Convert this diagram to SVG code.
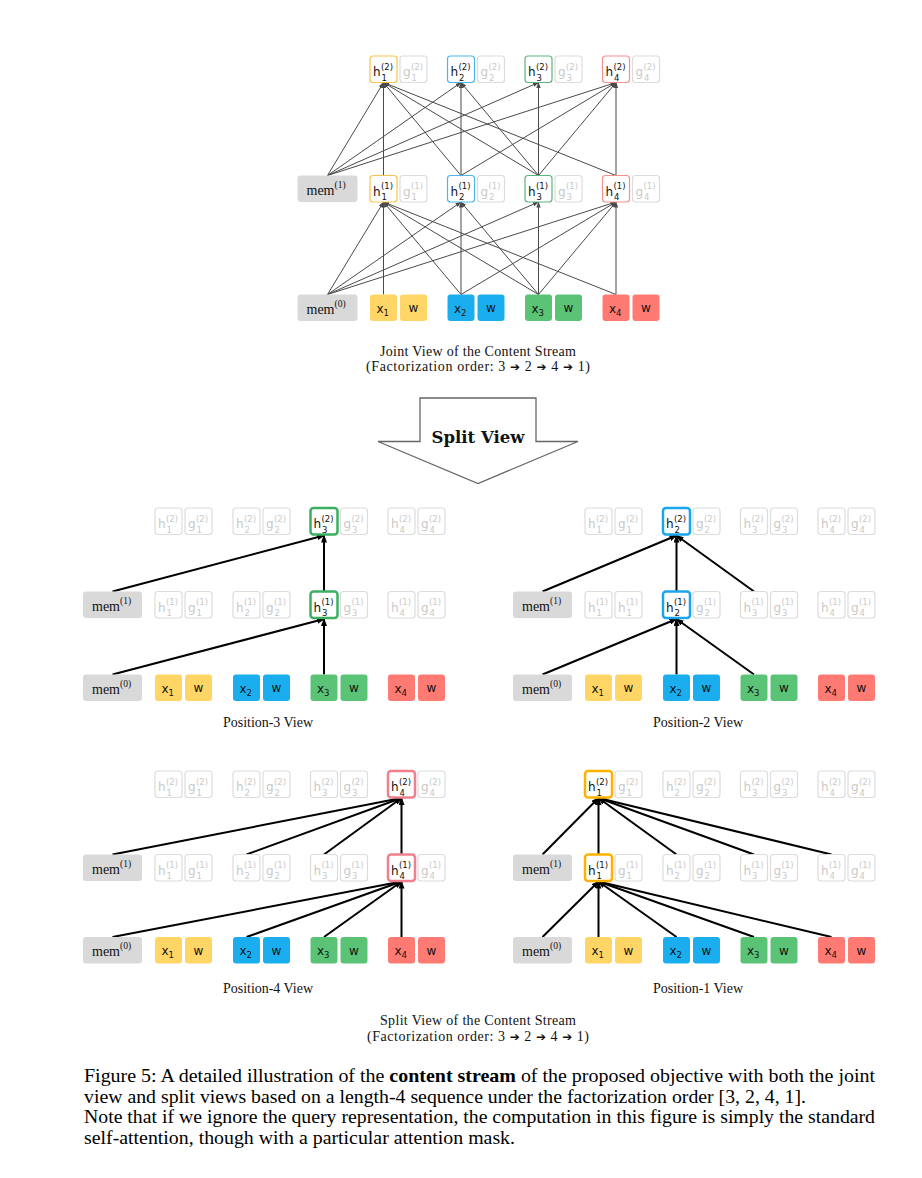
<svg xmlns="http://www.w3.org/2000/svg" width="922" height="1178" viewBox="0 0 922 1178">
<defs>
<style>
.bx{fill:#fff;stroke:#dcdcdc;stroke-width:1.2}
.t{font-family:"DejaVu Sans",sans-serif;font-size:12px;fill:#111}
.f{fill:#c9c9c9}
.s{font-size:8.5px}
.m{font-family:"Liberation Serif",serif;font-size:14px;fill:#111}
.ms{font-family:"Liberation Serif",serif;font-size:9.5px;fill:#111}
.mb{fill:#d9d9d9}
.wt{text-anchor:middle}
.cap{font-family:"Liberation Serif",serif;font-size:14px;fill:#111;text-anchor:middle}
.ar{font-family:"DejaVu Sans",sans-serif;font-size:12px;font-weight:bold}
.fig{font-family:"Liberation Serif",serif;font-size:19.5px;fill:#000}
.ej{stroke:#4a4a4a;stroke-width:1;fill:none;marker-end:url(#aj)}
.es{stroke:#000;stroke-width:2;fill:none;marker-end:url(#as)}
.y{fill:#FFD666}.b{fill:#1BAEEF}.g{fill:#5AC375}.r{fill:#FF7A73}
.jy{fill:#fff;stroke:#F8C34A;stroke-width:1.2}
.jb{fill:#fff;stroke:#4DB5EF;stroke-width:1.2}
.jg{fill:#fff;stroke:#5CB57A;stroke-width:1.2}
.jr{fill:#fff;stroke:#F79090;stroke-width:1.2}
.hg{fill:#fff;stroke:#3BAF62;stroke-width:2.5}
.hb{fill:#fff;stroke:#1AA6EC;stroke-width:2.5}
.hr{fill:#fff;stroke:#F0808E;stroke-width:2.5}
.hy{fill:#fff;stroke:#FFB300;stroke-width:2.5}
</style>
<marker id="aj" viewBox="0 0 6 4.4" refX="5.5" refY="2.2" markerWidth="6" markerHeight="4.4" markerUnits="userSpaceOnUse" orient="auto"><path d="M0,0 L6,2.2 L0,4.4 z" fill="#4a4a4a"/></marker>
<marker id="as" viewBox="0 0 8 6" refX="7" refY="3" markerWidth="8" markerHeight="6" markerUnits="userSpaceOnUse" orient="auto"><path d="M0,0 L8,3 L0,6 z" fill="#000"/></marker>
</defs>
<rect width="922" height="1178" fill="#fff"/>

<!-- ================= JOINT VIEW ================= -->
<g id="joint-connectors">
<line class="ej" x1="327.5" y1="175.5" x2="383.5" y2="82.5"/>
<line class="ej" x1="327.5" y1="175.5" x2="461" y2="82.5"/>
<line class="ej" x1="327.5" y1="175.5" x2="538.5" y2="82.5"/>
<line class="ej" x1="327.5" y1="175.5" x2="616" y2="82.5"/>
<line class="ej" x1="383.5" y1="175.5" x2="383.5" y2="82.5"/>
<line class="ej" x1="461" y1="175.5" x2="383.5" y2="82.5"/>
<line class="ej" x1="461" y1="175.5" x2="461" y2="82.5"/>
<line class="ej" x1="461" y1="175.5" x2="616" y2="82.5"/>
<line class="ej" x1="538.5" y1="175.5" x2="383.5" y2="82.5"/>
<line class="ej" x1="538.5" y1="175.5" x2="461" y2="82.5"/>
<line class="ej" x1="538.5" y1="175.5" x2="538.5" y2="82.5"/>
<line class="ej" x1="538.5" y1="175.5" x2="616" y2="82.5"/>
<line class="ej" x1="616" y1="175.5" x2="383.5" y2="82.5"/>
<line class="ej" x1="616" y1="175.5" x2="616" y2="82.5"/>
<line class="ej" x1="327.5" y1="294.5" x2="383.5" y2="202"/>
<line class="ej" x1="327.5" y1="294.5" x2="461" y2="202"/>
<line class="ej" x1="327.5" y1="294.5" x2="538.5" y2="202"/>
<line class="ej" x1="327.5" y1="294.5" x2="616" y2="202"/>
<line class="ej" x1="383.5" y1="294.5" x2="383.5" y2="202"/>
<line class="ej" x1="461" y1="294.5" x2="383.5" y2="202"/>
<line class="ej" x1="461" y1="294.5" x2="461" y2="202"/>
<line class="ej" x1="461" y1="294.5" x2="616" y2="202"/>
<line class="ej" x1="538.5" y1="294.5" x2="383.5" y2="202"/>
<line class="ej" x1="538.5" y1="294.5" x2="461" y2="202"/>
<line class="ej" x1="538.5" y1="294.5" x2="538.5" y2="202"/>
<line class="ej" x1="538.5" y1="294.5" x2="616" y2="202"/>
<line class="ej" x1="616" y1="294.5" x2="383.5" y2="202"/>
<line class="ej" x1="616" y1="294.5" x2="616" y2="202"/>
</g>

<g id="joint-l2">
<rect class="jy" x="370" y="56" width="27" height="26.5" rx="3"/><text class="t" x="373" y="76">h<tspan class="s" x="381.5" y="80.5">1</tspan><tspan class="s" x="381" y="69.5">(2)</tspan></text>
<rect class="bx" x="400" y="56" width="27" height="26.5" rx="3"/><text class="t f" x="403" y="76">g<tspan class="s" x="411.5" y="80.5">1</tspan><tspan class="s" x="411" y="69.5">(2)</tspan></text>
<rect class="jb" x="447.5" y="56" width="27" height="26.5" rx="3"/><text class="t" x="450.5" y="76">h<tspan class="s" x="459" y="80.5">2</tspan><tspan class="s" x="458.5" y="69.5">(2)</tspan></text>
<rect class="bx" x="477.5" y="56" width="27" height="26.5" rx="3"/><text class="t f" x="480.5" y="76">g<tspan class="s" x="489" y="80.5">2</tspan><tspan class="s" x="488.5" y="69.5">(2)</tspan></text>
<rect class="jg" x="525" y="56" width="27" height="26.5" rx="3"/><text class="t" x="528" y="76">h<tspan class="s" x="536.5" y="80.5">3</tspan><tspan class="s" x="536" y="69.5">(2)</tspan></text>
<rect class="bx" x="555" y="56" width="27" height="26.5" rx="3"/><text class="t f" x="558" y="76">g<tspan class="s" x="566.5" y="80.5">3</tspan><tspan class="s" x="566" y="69.5">(2)</tspan></text>
<rect class="jr" x="602.5" y="56" width="27" height="26.5" rx="3"/><text class="t" x="605.5" y="76">h<tspan class="s" x="614" y="80.5">4</tspan><tspan class="s" x="613.5" y="69.5">(2)</tspan></text>
<rect class="bx" x="632.5" y="56" width="27" height="26.5" rx="3"/><text class="t f" x="635.5" y="76">g<tspan class="s" x="644" y="80.5">4</tspan><tspan class="s" x="643.5" y="69.5">(2)</tspan></text>
</g>

<g id="joint-l1">
<rect class="mb" x="297.5" y="175.5" width="60" height="26.5" rx="3"/><text class="m" x="306.5" y="194.5">mem<tspan class="ms" x="334.5" y="187.5">(1)</tspan></text>
<rect class="jy" x="370" y="175.5" width="27" height="26.5" rx="3"/><text class="t" x="373" y="195.5">h<tspan class="s" x="381.5" y="200">1</tspan><tspan class="s" x="381" y="189">(1)</tspan></text>
<rect class="bx" x="400" y="175.5" width="27" height="26.5" rx="3"/><text class="t f" x="403" y="195.5">g<tspan class="s" x="411.5" y="200">1</tspan><tspan class="s" x="411" y="189">(1)</tspan></text>
<rect class="jb" x="447.5" y="175.5" width="27" height="26.5" rx="3"/><text class="t" x="450.5" y="195.5">h<tspan class="s" x="459" y="200">2</tspan><tspan class="s" x="458.5" y="189">(1)</tspan></text>
<rect class="bx" x="477.5" y="175.5" width="27" height="26.5" rx="3"/><text class="t f" x="480.5" y="195.5">g<tspan class="s" x="489" y="200">2</tspan><tspan class="s" x="488.5" y="189">(1)</tspan></text>
<rect class="jg" x="525" y="175.5" width="27" height="26.5" rx="3"/><text class="t" x="528" y="195.5">h<tspan class="s" x="536.5" y="200">3</tspan><tspan class="s" x="536" y="189">(1)</tspan></text>
<rect class="bx" x="555" y="175.5" width="27" height="26.5" rx="3"/><text class="t f" x="558" y="195.5">g<tspan class="s" x="566.5" y="200">3</tspan><tspan class="s" x="566" y="189">(1)</tspan></text>
<rect class="jr" x="602.5" y="175.5" width="27" height="26.5" rx="3"/><text class="t" x="605.5" y="195.5">h<tspan class="s" x="614" y="200">4</tspan><tspan class="s" x="613.5" y="189">(1)</tspan></text>
<rect class="bx" x="632.5" y="175.5" width="27" height="26.5" rx="3"/><text class="t f" x="635.5" y="195.5">g<tspan class="s" x="644" y="200">4</tspan><tspan class="s" x="643.5" y="189">(1)</tspan></text>
</g>

<g id="joint-input">
<rect class="mb" x="297.5" y="294.5" width="60" height="26.5" rx="3"/><text class="m" x="306.5" y="313.5">mem<tspan class="ms" x="334.5" y="306.5">(0)</tspan></text>
<rect class="y" x="370" y="294.5" width="27" height="26.5" rx="3"/><text class="t" x="376.5" y="312.5">x<tspan class="s" x="383.5" y="315.5">1</tspan></text>
<rect class="y" x="400" y="294.5" width="27" height="26.5" rx="3"/><text class="t wt" x="413.5" y="312">w</text>
<rect class="b" x="447.5" y="294.5" width="27" height="26.5" rx="3"/><text class="t" x="454" y="312.5">x<tspan class="s" x="461" y="315.5">2</tspan></text>
<rect class="b" x="477.5" y="294.5" width="27" height="26.5" rx="3"/><text class="t wt" x="491" y="312">w</text>
<rect class="g" x="525" y="294.5" width="27" height="26.5" rx="3"/><text class="t" x="531.5" y="312.5">x<tspan class="s" x="538.5" y="315.5">3</tspan></text>
<rect class="g" x="555" y="294.5" width="27" height="26.5" rx="3"/><text class="t wt" x="568.5" y="312">w</text>
<rect class="r" x="602.5" y="294.5" width="27" height="26.5" rx="3"/><text class="t" x="609" y="312.5">x<tspan class="s" x="616" y="315.5">4</tspan></text>
<rect class="r" x="632.5" y="294.5" width="27" height="26.5" rx="3"/><text class="t wt" x="646" y="312">w</text>
</g>

<g id="joint-caption">
<text class="cap" x="478" y="356" textLength="196">Joint View of the Content Stream</text>
<text class="cap" x="478" y="371" textLength="224">(Factorization order: 3 <tspan class="ar">➔</tspan> 2 <tspan class="ar">➔</tspan> 4 <tspan class="ar">➔</tspan> 1)</text>
</g>

<g id="split-arrow">
<polygon points="420,398 536,398 536,441.5 578,441.5 478,483.5 378,441.5 420,441.5" fill="#fff" stroke="#666" stroke-width="1.3"/>
<text x="478" y="443" font-family="DejaVu Serif, serif" font-size="16.5" font-weight="bold" text-anchor="middle" fill="#111">Split View</text>
</g>

<!-- ================= POSITION-3 VIEW ================= -->
<g id="p3-connectors">
<line class="es" x1="112.5" y1="591.5" x2="324" y2="535.5"/>
<line class="es" x1="324" y1="591.5" x2="324" y2="535.5"/>
<line class="es" x1="112.5" y1="674.5" x2="324" y2="619"/>
<line class="es" x1="324" y1="674.5" x2="324" y2="619"/>
</g>
<g id="p3-l2">
<rect class="bx" x="155" y="508" width="27" height="26.5" rx="3"/><text class="t f" x="158" y="528">h<tspan class="s" x="166.5" y="532.5">1</tspan><tspan class="s" x="166" y="521.5">(2)</tspan></text>
<rect class="bx" x="185" y="508" width="27" height="26.5" rx="3"/><text class="t f" x="188" y="528">g<tspan class="s" x="196.5" y="532.5">1</tspan><tspan class="s" x="196" y="521.5">(2)</tspan></text>
<rect class="bx" x="233" y="508" width="27" height="26.5" rx="3"/><text class="t f" x="236" y="528">h<tspan class="s" x="244.5" y="532.5">2</tspan><tspan class="s" x="244" y="521.5">(2)</tspan></text>
<rect class="bx" x="263" y="508" width="27" height="26.5" rx="3"/><text class="t f" x="266" y="528">g<tspan class="s" x="274.5" y="532.5">2</tspan><tspan class="s" x="274" y="521.5">(2)</tspan></text>
<rect class="hg" x="310.5" y="508" width="27" height="26.5" rx="3"/><text class="t" x="313.5" y="528">h<tspan class="s" x="322" y="532.5">3</tspan><tspan class="s" x="321.5" y="521.5">(2)</tspan></text>
<rect class="bx" x="340.5" y="508" width="27" height="26.5" rx="3"/><text class="t f" x="343.5" y="528">g<tspan class="s" x="352" y="532.5">3</tspan><tspan class="s" x="351.5" y="521.5">(2)</tspan></text>
<rect class="bx" x="388" y="508" width="27" height="26.5" rx="3"/><text class="t f" x="391" y="528">h<tspan class="s" x="399.5" y="532.5">4</tspan><tspan class="s" x="399" y="521.5">(2)</tspan></text>
<rect class="bx" x="418" y="508" width="27" height="26.5" rx="3"/><text class="t f" x="421" y="528">g<tspan class="s" x="429.5" y="532.5">4</tspan><tspan class="s" x="429" y="521.5">(2)</tspan></text>
</g>
<g id="p3-l1">
<rect class="mb" x="83" y="591.5" width="59" height="26.5" rx="3"/><text class="m" x="92" y="610.5">mem<tspan class="ms" x="120" y="603.5">(1)</tspan></text>
<rect class="bx" x="155" y="591.5" width="27" height="26.5" rx="3"/><text class="t f" x="158" y="611.5">h<tspan class="s" x="166.5" y="616">1</tspan><tspan class="s" x="166" y="605">(1)</tspan></text>
<rect class="bx" x="185" y="591.5" width="27" height="26.5" rx="3"/><text class="t f" x="188" y="611.5">g<tspan class="s" x="196.5" y="616">1</tspan><tspan class="s" x="196" y="605">(1)</tspan></text>
<rect class="bx" x="233" y="591.5" width="27" height="26.5" rx="3"/><text class="t f" x="236" y="611.5">h<tspan class="s" x="244.5" y="616">2</tspan><tspan class="s" x="244" y="605">(1)</tspan></text>
<rect class="bx" x="263" y="591.5" width="27" height="26.5" rx="3"/><text class="t f" x="266" y="611.5">g<tspan class="s" x="274.5" y="616">2</tspan><tspan class="s" x="274" y="605">(1)</tspan></text>
<rect class="hg" x="310.5" y="591.5" width="27" height="26.5" rx="3"/><text class="t" x="313.5" y="611.5">h<tspan class="s" x="322" y="616">3</tspan><tspan class="s" x="321.5" y="605">(1)</tspan></text>
<rect class="bx" x="340.5" y="591.5" width="27" height="26.5" rx="3"/><text class="t f" x="343.5" y="611.5">g<tspan class="s" x="352" y="616">3</tspan><tspan class="s" x="351.5" y="605">(1)</tspan></text>
<rect class="bx" x="388" y="591.5" width="27" height="26.5" rx="3"/><text class="t f" x="391" y="611.5">h<tspan class="s" x="399.5" y="616">4</tspan><tspan class="s" x="399" y="605">(1)</tspan></text>
<rect class="bx" x="418" y="591.5" width="27" height="26.5" rx="3"/><text class="t f" x="421" y="611.5">g<tspan class="s" x="429.5" y="616">4</tspan><tspan class="s" x="429" y="605">(1)</tspan></text>
</g>
<g id="p3-input">
<rect class="mb" x="83" y="674.5" width="59" height="26.5" rx="3"/><text class="m" x="92" y="693.5">mem<tspan class="ms" x="120" y="686.5">(0)</tspan></text>
<rect class="y" x="155" y="674.5" width="27" height="26.5" rx="3"/><text class="t" x="161.5" y="692.5">x<tspan class="s" x="168.5" y="695.5">1</tspan></text>
<rect class="y" x="185" y="674.5" width="27" height="26.5" rx="3"/><text class="t wt" x="198.5" y="692">w</text>
<rect class="b" x="233" y="674.5" width="27" height="26.5" rx="3"/><text class="t" x="239.5" y="692.5">x<tspan class="s" x="246.5" y="695.5">2</tspan></text>
<rect class="b" x="263" y="674.5" width="27" height="26.5" rx="3"/><text class="t wt" x="276.5" y="692">w</text>
<rect class="g" x="310.5" y="674.5" width="27" height="26.5" rx="3"/><text class="t" x="317" y="692.5">x<tspan class="s" x="324" y="695.5">3</tspan></text>
<rect class="g" x="340.5" y="674.5" width="27" height="26.5" rx="3"/><text class="t wt" x="354" y="692">w</text>
<rect class="r" x="388" y="674.5" width="27" height="26.5" rx="3"/><text class="t" x="394.5" y="692.5">x<tspan class="s" x="401.5" y="695.5">4</tspan></text>
<rect class="r" x="418" y="674.5" width="27" height="26.5" rx="3"/><text class="t wt" x="431.5" y="692">w</text>
</g>
<text id="p3-caption" class="cap" x="268" y="727" font-size="12.5" textLength="90">Position-3 View</text>

<!-- ================= POSITION-2 VIEW ================= -->
<g id="p2-connectors">
<line class="es" x1="542.5" y1="591.5" x2="676.5" y2="535.5"/>
<line class="es" x1="676.5" y1="591.5" x2="676.5" y2="535.5"/>
<line class="es" x1="754" y1="591.5" x2="676.5" y2="535.5"/>
<line class="es" x1="542.5" y1="674.5" x2="676.5" y2="619"/>
<line class="es" x1="676.5" y1="674.5" x2="676.5" y2="619"/>
<line class="es" x1="754" y1="674.5" x2="676.5" y2="619"/>
</g>
<g id="p2-l2">
<rect class="bx" x="585" y="508" width="27" height="26.5" rx="3"/><text class="t f" x="588" y="528">h<tspan class="s" x="596.5" y="532.5">1</tspan><tspan class="s" x="596" y="521.5">(2)</tspan></text>
<rect class="bx" x="615" y="508" width="27" height="26.5" rx="3"/><text class="t f" x="618" y="528">g<tspan class="s" x="626.5" y="532.5">1</tspan><tspan class="s" x="626" y="521.5">(2)</tspan></text>
<rect class="hb" x="663" y="508" width="27" height="26.5" rx="3"/><text class="t" x="666" y="528">h<tspan class="s" x="674.5" y="532.5">2</tspan><tspan class="s" x="674" y="521.5">(2)</tspan></text>
<rect class="bx" x="693" y="508" width="27" height="26.5" rx="3"/><text class="t f" x="696" y="528">g<tspan class="s" x="704.5" y="532.5">2</tspan><tspan class="s" x="704" y="521.5">(2)</tspan></text>
<rect class="bx" x="740.5" y="508" width="27" height="26.5" rx="3"/><text class="t f" x="743.5" y="528">h<tspan class="s" x="752" y="532.5">3</tspan><tspan class="s" x="751.5" y="521.5">(2)</tspan></text>
<rect class="bx" x="770.5" y="508" width="27" height="26.5" rx="3"/><text class="t f" x="773.5" y="528">g<tspan class="s" x="782" y="532.5">3</tspan><tspan class="s" x="781.5" y="521.5">(2)</tspan></text>
<rect class="bx" x="818" y="508" width="27" height="26.5" rx="3"/><text class="t f" x="821" y="528">h<tspan class="s" x="829.5" y="532.5">4</tspan><tspan class="s" x="829" y="521.5">(2)</tspan></text>
<rect class="bx" x="848" y="508" width="27" height="26.5" rx="3"/><text class="t f" x="851" y="528">g<tspan class="s" x="859.5" y="532.5">4</tspan><tspan class="s" x="859" y="521.5">(2)</tspan></text>
</g>
<g id="p2-l1">
<rect class="mb" x="513" y="591.5" width="59" height="26.5" rx="3"/><text class="m" x="522" y="610.5">mem<tspan class="ms" x="550" y="603.5">(1)</tspan></text>
<rect class="bx" x="585" y="591.5" width="27" height="26.5" rx="3"/><text class="t f" x="588" y="611.5">h<tspan class="s" x="596.5" y="616">1</tspan><tspan class="s" x="596" y="605">(1)</tspan></text>
<rect class="bx" x="615" y="591.5" width="27" height="26.5" rx="3"/><text class="t f" x="618" y="611.5">h<tspan class="s" x="626.5" y="616">1</tspan><tspan class="s" x="626" y="605">(1)</tspan></text>
<rect class="hb" x="663" y="591.5" width="27" height="26.5" rx="3"/><text class="t" x="666" y="611.5">h<tspan class="s" x="674.5" y="616">2</tspan><tspan class="s" x="674" y="605">(1)</tspan></text>
<rect class="bx" x="693" y="591.5" width="27" height="26.5" rx="3"/><text class="t f" x="696" y="611.5">g<tspan class="s" x="704.5" y="616">2</tspan><tspan class="s" x="704" y="605">(1)</tspan></text>
<rect class="bx" x="740.5" y="591.5" width="27" height="26.5" rx="3"/><text class="t f" x="743.5" y="611.5">h<tspan class="s" x="752" y="616">3</tspan><tspan class="s" x="751.5" y="605">(1)</tspan></text>
<rect class="bx" x="770.5" y="591.5" width="27" height="26.5" rx="3"/><text class="t f" x="773.5" y="611.5">g<tspan class="s" x="782" y="616">3</tspan><tspan class="s" x="781.5" y="605">(1)</tspan></text>
<rect class="bx" x="818" y="591.5" width="27" height="26.5" rx="3"/><text class="t f" x="821" y="611.5">h<tspan class="s" x="829.5" y="616">4</tspan><tspan class="s" x="829" y="605">(1)</tspan></text>
<rect class="bx" x="848" y="591.5" width="27" height="26.5" rx="3"/><text class="t f" x="851" y="611.5">g<tspan class="s" x="859.5" y="616">4</tspan><tspan class="s" x="859" y="605">(1)</tspan></text>
</g>
<g id="p2-input">
<rect class="mb" x="513" y="674.5" width="59" height="26.5" rx="3"/><text class="m" x="522" y="693.5">mem<tspan class="ms" x="550" y="686.5">(0)</tspan></text>
<rect class="y" x="585" y="674.5" width="27" height="26.5" rx="3"/><text class="t" x="591.5" y="692.5">x<tspan class="s" x="598.5" y="695.5">1</tspan></text>
<rect class="y" x="615" y="674.5" width="27" height="26.5" rx="3"/><text class="t wt" x="628.5" y="692">w</text>
<rect class="b" x="663" y="674.5" width="27" height="26.5" rx="3"/><text class="t" x="669.5" y="692.5">x<tspan class="s" x="676.5" y="695.5">2</tspan></text>
<rect class="b" x="693" y="674.5" width="27" height="26.5" rx="3"/><text class="t wt" x="706.5" y="692">w</text>
<rect class="g" x="740.5" y="674.5" width="27" height="26.5" rx="3"/><text class="t" x="747" y="692.5">x<tspan class="s" x="754" y="695.5">3</tspan></text>
<rect class="g" x="770.5" y="674.5" width="27" height="26.5" rx="3"/><text class="t wt" x="784" y="692">w</text>
<rect class="r" x="818" y="674.5" width="27" height="26.5" rx="3"/><text class="t" x="824.5" y="692.5">x<tspan class="s" x="831.5" y="695.5">4</tspan></text>
<rect class="r" x="848" y="674.5" width="27" height="26.5" rx="3"/><text class="t wt" x="861.5" y="692">w</text>
</g>
<text id="p2-caption" class="cap" x="698" y="727" font-size="12.5" textLength="90">Position-2 View</text>

<!-- ================= POSITION-4 VIEW ================= -->
<g id="p4-connectors">
<line class="es" x1="112.5" y1="854.5" x2="401.5" y2="798"/>
<line class="es" x1="246.5" y1="854.5" x2="401.5" y2="798"/>
<line class="es" x1="324" y1="854.5" x2="401.5" y2="798"/>
<line class="es" x1="401.5" y1="854.5" x2="401.5" y2="798"/>
<line class="es" x1="112.5" y1="937" x2="401.5" y2="881.5"/>
<line class="es" x1="246.5" y1="937" x2="401.5" y2="881.5"/>
<line class="es" x1="324" y1="937" x2="401.5" y2="881.5"/>
<line class="es" x1="401.5" y1="937" x2="401.5" y2="881.5"/>
</g>
<g id="p4-l2">
<rect class="bx" x="155" y="771" width="27" height="26.5" rx="3"/><text class="t f" x="158" y="791">h<tspan class="s" x="166.5" y="795.5">1</tspan><tspan class="s" x="166" y="784.5">(2)</tspan></text>
<rect class="bx" x="185" y="771" width="27" height="26.5" rx="3"/><text class="t f" x="188" y="791">g<tspan class="s" x="196.5" y="795.5">1</tspan><tspan class="s" x="196" y="784.5">(2)</tspan></text>
<rect class="bx" x="233" y="771" width="27" height="26.5" rx="3"/><text class="t f" x="236" y="791">h<tspan class="s" x="244.5" y="795.5">2</tspan><tspan class="s" x="244" y="784.5">(2)</tspan></text>
<rect class="bx" x="263" y="771" width="27" height="26.5" rx="3"/><text class="t f" x="266" y="791">g<tspan class="s" x="274.5" y="795.5">2</tspan><tspan class="s" x="274" y="784.5">(2)</tspan></text>
<rect class="bx" x="310.5" y="771" width="27" height="26.5" rx="3"/><text class="t f" x="313.5" y="791">h<tspan class="s" x="322" y="795.5">3</tspan><tspan class="s" x="321.5" y="784.5">(2)</tspan></text>
<rect class="bx" x="340.5" y="771" width="27" height="26.5" rx="3"/><text class="t f" x="343.5" y="791">g<tspan class="s" x="352" y="795.5">3</tspan><tspan class="s" x="351.5" y="784.5">(2)</tspan></text>
<rect class="hr" x="388" y="771" width="27" height="26.5" rx="3"/><text class="t" x="391" y="791">h<tspan class="s" x="399.5" y="795.5">4</tspan><tspan class="s" x="399" y="784.5">(2)</tspan></text>
<rect class="bx" x="418" y="771" width="27" height="26.5" rx="3"/><text class="t f" x="421" y="791">g<tspan class="s" x="429.5" y="795.5">4</tspan><tspan class="s" x="429" y="784.5">(2)</tspan></text>
</g>
<g id="p4-l1">
<rect class="mb" x="83" y="854.5" width="59" height="26.5" rx="3"/><text class="m" x="92" y="873.5">mem<tspan class="ms" x="120" y="866.5">(1)</tspan></text>
<rect class="bx" x="155" y="854.5" width="27" height="26.5" rx="3"/><text class="t f" x="158" y="874.5">h<tspan class="s" x="166.5" y="879">1</tspan><tspan class="s" x="166" y="868">(1)</tspan></text>
<rect class="bx" x="185" y="854.5" width="27" height="26.5" rx="3"/><text class="t f" x="188" y="874.5">g<tspan class="s" x="196.5" y="879">1</tspan><tspan class="s" x="196" y="868">(1)</tspan></text>
<rect class="bx" x="233" y="854.5" width="27" height="26.5" rx="3"/><text class="t f" x="236" y="874.5">h<tspan class="s" x="244.5" y="879">2</tspan><tspan class="s" x="244" y="868">(1)</tspan></text>
<rect class="bx" x="263" y="854.5" width="27" height="26.5" rx="3"/><text class="t f" x="266" y="874.5">g<tspan class="s" x="274.5" y="879">2</tspan><tspan class="s" x="274" y="868">(1)</tspan></text>
<rect class="bx" x="310.5" y="854.5" width="27" height="26.5" rx="3"/><text class="t f" x="313.5" y="874.5">h<tspan class="s" x="322" y="879">3</tspan><tspan class="s" x="321.5" y="868">(1)</tspan></text>
<rect class="bx" x="340.5" y="854.5" width="27" height="26.5" rx="3"/><text class="t f" x="343.5" y="874.5">g<tspan class="s" x="352" y="879">3</tspan><tspan class="s" x="351.5" y="868">(1)</tspan></text>
<rect class="hr" x="388" y="854.5" width="27" height="26.5" rx="3"/><text class="t" x="391" y="874.5">h<tspan class="s" x="399.5" y="879">4</tspan><tspan class="s" x="399" y="868">(1)</tspan></text>
<rect class="bx" x="418" y="854.5" width="27" height="26.5" rx="3"/><text class="t f" x="421" y="874.5">g<tspan class="s" x="429.5" y="879">4</tspan><tspan class="s" x="429" y="868">(1)</tspan></text>
</g>
<g id="p4-input">
<rect class="mb" x="83" y="937" width="59" height="26.5" rx="3"/><text class="m" x="92" y="956">mem<tspan class="ms" x="120" y="949">(0)</tspan></text>
<rect class="y" x="155" y="937" width="27" height="26.5" rx="3"/><text class="t" x="161.5" y="955">x<tspan class="s" x="168.5" y="958">1</tspan></text>
<rect class="y" x="185" y="937" width="27" height="26.5" rx="3"/><text class="t wt" x="198.5" y="954.5">w</text>
<rect class="b" x="233" y="937" width="27" height="26.5" rx="3"/><text class="t" x="239.5" y="955">x<tspan class="s" x="246.5" y="958">2</tspan></text>
<rect class="b" x="263" y="937" width="27" height="26.5" rx="3"/><text class="t wt" x="276.5" y="954.5">w</text>
<rect class="g" x="310.5" y="937" width="27" height="26.5" rx="3"/><text class="t" x="317" y="955">x<tspan class="s" x="324" y="958">3</tspan></text>
<rect class="g" x="340.5" y="937" width="27" height="26.5" rx="3"/><text class="t wt" x="354" y="954.5">w</text>
<rect class="r" x="388" y="937" width="27" height="26.5" rx="3"/><text class="t" x="394.5" y="955">x<tspan class="s" x="401.5" y="958">4</tspan></text>
<rect class="r" x="418" y="937" width="27" height="26.5" rx="3"/><text class="t wt" x="431.5" y="954.5">w</text>
</g>
<text id="p4-caption" class="cap" x="268" y="993" font-size="12.5" textLength="90">Position-4 View</text>

<!-- ================= POSITION-1 VIEW ================= -->
<g id="p1-connectors">
<line class="es" x1="542.5" y1="854.5" x2="598.5" y2="798"/>
<line class="es" x1="598.5" y1="854.5" x2="598.5" y2="798"/>
<line class="es" x1="676.5" y1="854.5" x2="598.5" y2="798"/>
<line class="es" x1="754" y1="854.5" x2="598.5" y2="798"/>
<line class="es" x1="831.5" y1="854.5" x2="598.5" y2="798"/>
<line class="es" x1="542.5" y1="937" x2="598.5" y2="881.5"/>
<line class="es" x1="598.5" y1="937" x2="598.5" y2="881.5"/>
<line class="es" x1="676.5" y1="937" x2="598.5" y2="881.5"/>
<line class="es" x1="754" y1="937" x2="598.5" y2="881.5"/>
<line class="es" x1="831.5" y1="937" x2="598.5" y2="881.5"/>
</g>
<g id="p1-l2">
<rect class="hy" x="585" y="771" width="27" height="26.5" rx="3"/><text class="t" x="588" y="791">h<tspan class="s" x="596.5" y="795.5">1</tspan><tspan class="s" x="596" y="784.5">(2)</tspan></text>
<rect class="bx" x="615" y="771" width="27" height="26.5" rx="3"/><text class="t f" x="618" y="791">g<tspan class="s" x="626.5" y="795.5">1</tspan><tspan class="s" x="626" y="784.5">(2)</tspan></text>
<rect class="bx" x="663" y="771" width="27" height="26.5" rx="3"/><text class="t f" x="666" y="791">h<tspan class="s" x="674.5" y="795.5">2</tspan><tspan class="s" x="674" y="784.5">(2)</tspan></text>
<rect class="bx" x="693" y="771" width="27" height="26.5" rx="3"/><text class="t f" x="696" y="791">g<tspan class="s" x="704.5" y="795.5">2</tspan><tspan class="s" x="704" y="784.5">(2)</tspan></text>
<rect class="bx" x="740.5" y="771" width="27" height="26.5" rx="3"/><text class="t f" x="743.5" y="791">h<tspan class="s" x="752" y="795.5">3</tspan><tspan class="s" x="751.5" y="784.5">(2)</tspan></text>
<rect class="bx" x="770.5" y="771" width="27" height="26.5" rx="3"/><text class="t f" x="773.5" y="791">g<tspan class="s" x="782" y="795.5">3</tspan><tspan class="s" x="781.5" y="784.5">(2)</tspan></text>
<rect class="bx" x="818" y="771" width="27" height="26.5" rx="3"/><text class="t f" x="821" y="791">h<tspan class="s" x="829.5" y="795.5">4</tspan><tspan class="s" x="829" y="784.5">(2)</tspan></text>
<rect class="bx" x="848" y="771" width="27" height="26.5" rx="3"/><text class="t f" x="851" y="791">g<tspan class="s" x="859.5" y="795.5">4</tspan><tspan class="s" x="859" y="784.5">(2)</tspan></text>
</g>
<g id="p1-l1">
<rect class="mb" x="513" y="854.5" width="59" height="26.5" rx="3"/><text class="m" x="522" y="873.5">mem<tspan class="ms" x="550" y="866.5">(1)</tspan></text>
<rect class="hy" x="585" y="854.5" width="27" height="26.5" rx="3"/><text class="t" x="588" y="874.5">h<tspan class="s" x="596.5" y="879">1</tspan><tspan class="s" x="596" y="868">(1)</tspan></text>
<rect class="bx" x="615" y="854.5" width="27" height="26.5" rx="3"/><text class="t f" x="618" y="874.5">g<tspan class="s" x="626.5" y="879">1</tspan><tspan class="s" x="626" y="868">(1)</tspan></text>
<rect class="bx" x="663" y="854.5" width="27" height="26.5" rx="3"/><text class="t f" x="666" y="874.5">h<tspan class="s" x="674.5" y="879">2</tspan><tspan class="s" x="674" y="868">(1)</tspan></text>
<rect class="bx" x="693" y="854.5" width="27" height="26.5" rx="3"/><text class="t f" x="696" y="874.5">g<tspan class="s" x="704.5" y="879">2</tspan><tspan class="s" x="704" y="868">(1)</tspan></text>
<rect class="bx" x="740.5" y="854.5" width="27" height="26.5" rx="3"/><text class="t f" x="743.5" y="874.5">h<tspan class="s" x="752" y="879">3</tspan><tspan class="s" x="751.5" y="868">(1)</tspan></text>
<rect class="bx" x="770.5" y="854.5" width="27" height="26.5" rx="3"/><text class="t f" x="773.5" y="874.5">g<tspan class="s" x="782" y="879">3</tspan><tspan class="s" x="781.5" y="868">(1)</tspan></text>
<rect class="bx" x="818" y="854.5" width="27" height="26.5" rx="3"/><text class="t f" x="821" y="874.5">h<tspan class="s" x="829.5" y="879">4</tspan><tspan class="s" x="829" y="868">(1)</tspan></text>
<rect class="bx" x="848" y="854.5" width="27" height="26.5" rx="3"/><text class="t f" x="851" y="874.5">g<tspan class="s" x="859.5" y="879">4</tspan><tspan class="s" x="859" y="868">(1)</tspan></text>
</g>
<g id="p1-input">
<rect class="mb" x="513" y="937" width="59" height="26.5" rx="3"/><text class="m" x="522" y="956">mem<tspan class="ms" x="550" y="949">(0)</tspan></text>
<rect class="y" x="585" y="937" width="27" height="26.5" rx="3"/><text class="t" x="591.5" y="955">x<tspan class="s" x="598.5" y="958">1</tspan></text>
<rect class="y" x="615" y="937" width="27" height="26.5" rx="3"/><text class="t wt" x="628.5" y="954.5">w</text>
<rect class="b" x="663" y="937" width="27" height="26.5" rx="3"/><text class="t" x="669.5" y="955">x<tspan class="s" x="676.5" y="958">2</tspan></text>
<rect class="b" x="693" y="937" width="27" height="26.5" rx="3"/><text class="t wt" x="706.5" y="954.5">w</text>
<rect class="g" x="740.5" y="937" width="27" height="26.5" rx="3"/><text class="t" x="747" y="955">x<tspan class="s" x="754" y="958">3</tspan></text>
<rect class="g" x="770.5" y="937" width="27" height="26.5" rx="3"/><text class="t wt" x="784" y="954.5">w</text>
<rect class="r" x="818" y="937" width="27" height="26.5" rx="3"/><text class="t" x="824.5" y="955">x<tspan class="s" x="831.5" y="958">4</tspan></text>
<rect class="r" x="848" y="937" width="27" height="26.5" rx="3"/><text class="t wt" x="861.5" y="954.5">w</text>
</g>
<text id="p1-caption" class="cap" x="698" y="993" font-size="12.5" textLength="90">Position-1 View</text>

<g id="split-caption">
<text class="cap" x="478" y="1025" textLength="196">Split View of the Content Stream</text>
<text class="cap" x="478" y="1040.5" textLength="222">(Factorization order: 3 <tspan class="ar">➔</tspan> 2 <tspan class="ar">➔</tspan> 4 <tspan class="ar">➔</tspan> 1)</text>
</g>

<g id="figure-caption">
<text class="fig" x="84" y="1082" textLength="791" lengthAdjust="spacingAndGlyphs">Figure 5: A detailed illustration of the <tspan font-weight="bold">content stream</tspan> of the proposed objective with both the joint</text>
<text class="fig" x="84" y="1102.5" textLength="722" lengthAdjust="spacingAndGlyphs">view and split views based on a length-4 sequence under the factorization order [3, 2, 4, 1].</text>
<text class="fig" x="84" y="1123" textLength="791" lengthAdjust="spacingAndGlyphs">Note that if we ignore the query representation, the computation in this figure is simply the standard</text>
<text class="fig" x="84" y="1143.5" textLength="431" lengthAdjust="spacingAndGlyphs">self-attention, though with a particular attention mask.</text>
</g>
</svg>
